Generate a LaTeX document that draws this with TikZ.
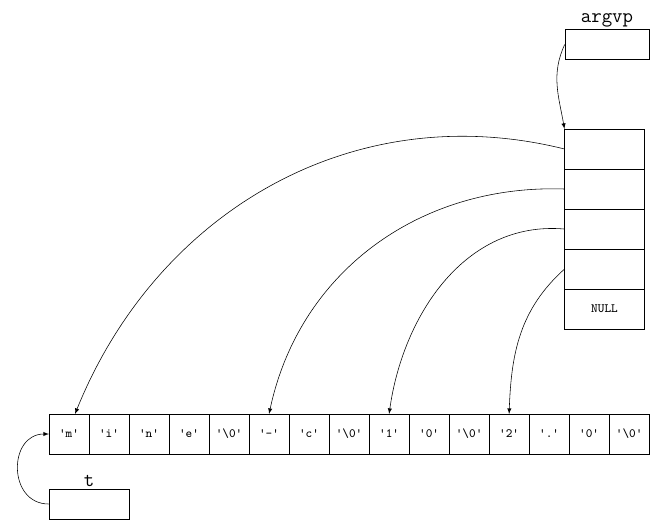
\documentclass[tikz,border=0pt]{standalone}
\usetikzlibrary{positioning}
\usetikzlibrary{arrows}
\begin{document}
\begin{tikzpicture}[x=0.025cm,y=-0.025cm]
\tikzstyle{cell} =[rectangle,draw=black,minimum width=1cm,minimum height=1cm,inner sep=0pt,outer sep=0pt,font=\ttfamily\small]
\tikzstyle{ptr} =[rectangle,draw=black,minimum width=2cm,minimum height=1cm,inner sep=0pt,outer sep=0pt,font=\ttfamily\small]
\tikzstyle{var} =[rectangle,draw=black,minimum width=2.1cm,minimum height=0.75cm,inner sep=0pt]
\useasboundingbox (0,0) rectangle (661,531);

% pointer variables
\node[var](argvp) at (607,44.5){};
\node[font=\ttfamily\Large,above=-2pt of argvp](argvplbl){argvp};
\node[var,minimum width=2cm](t) at (89,504){};
\node[font=\ttfamily\Large,above=-2pt of t](tlbl){t};

% argv array
\node[ptr](p1) at (604.5,149){};
\node[ptr,below=0pt of p1](p2){};
\node[ptr,below=0pt of p2](p3){};
\node[ptr,below=0pt of p3](p4){};
\node[ptr,below=0pt of p4](p5){NULL};

% characters
\node[cell](c1) at (69,434){'m'};
\foreach \ch [count=\i from 2, evaluate=\i as \j using int(\i-1)] in {'i','n','e','\textbackslash0','-','c','\textbackslash0','1','0','\textbackslash0','2','.','0','\textbackslash0'}
  \node[cell,right=0pt of c\j](c\i){\ch};

\draw[-latex] (argvp.west) to[out=245,in=100] (p1.north west);
\draw[-latex] (p1.west) to[out=166,in=68] ([xshift=0.15cm]c1.north);
\draw[-latex] (p2.west) to[out=178,in=78] (c6.north);
\draw[-latex] (p3.west) to[out=175,in=82] (c9.north);
\draw[-latex] (p4.west) to[out=222,in=88] (c12.north);
\draw[-latex] (t.west) to[out=180,in=180,looseness=1.5] (c1.west);
\end{tikzpicture}
\end{document}
